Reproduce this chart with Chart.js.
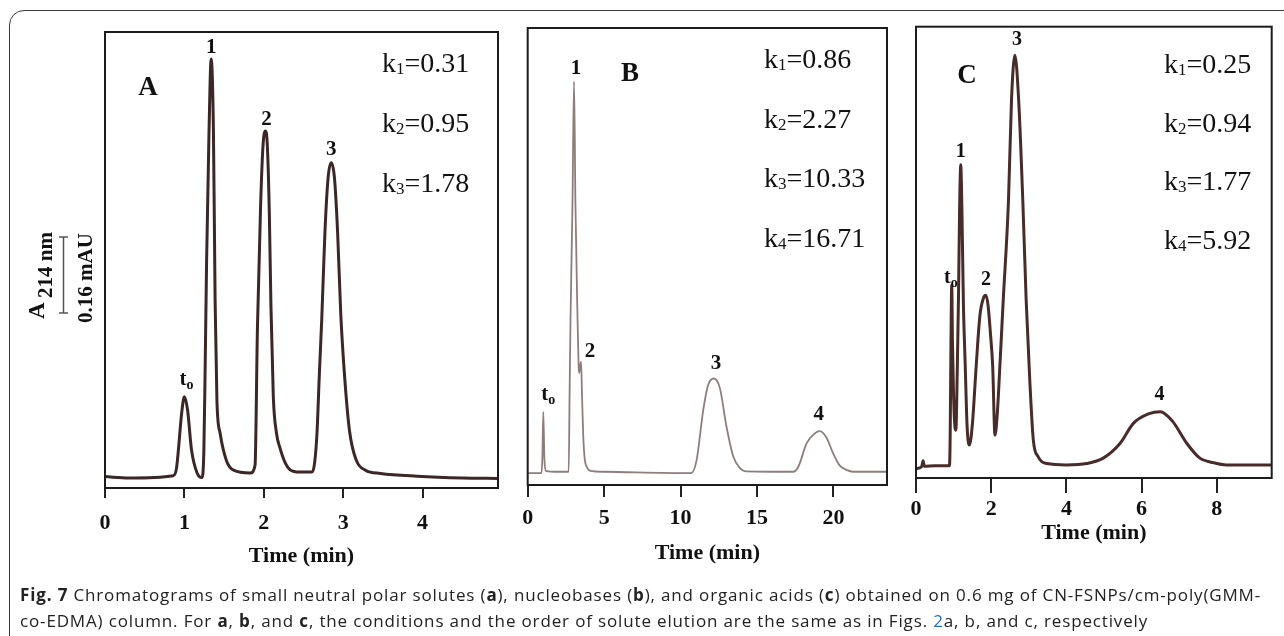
<!DOCTYPE html>
<html>
<head>
<meta charset="utf-8">
<script src="https://cdn.jsdelivr.net/npm/chart.js@4.4.1/dist/chart.umd.min.js"></script>
<style>
html,body{margin:0;padding:0;background:#fff;}
body{width:1284px;height:636px;position:relative;overflow:hidden;}
#frame{position:absolute;left:9px;top:10px;width:1320px;height:680px;border:1.5px solid #3a3a3a;border-radius:15px;box-sizing:border-box;}
canvas.plot{position:absolute;left:0;top:0;}
.cap{position:absolute;left:20px;font-family:"Open Sans",sans-serif;font-size:17px;letter-spacing:0.85px;color:#222;white-space:nowrap;}
.cap b{font-weight:700;}
.blue{color:#2a6ebb;}
</style>
</head>
<body>
<div id="frame"></div>
<div id="stage"></div>
<div class="cap" style="top:583px;"><b>Fig. 7</b> Chromatograms of small neutral polar solutes (<b>a</b>), nucleobases (<b>b</b>), and organic acids (<b>c</b>) obtained on 0.6 mg of CN-FSNPs/cm-poly(GMM-</div>
<div class="cap" style="top:609px;">co-EDMA) column. For <b>a</b>, <b>b</b>, and <b>c</b>, the conditions and the order of solute elution are the same as in Figs. <span class="blue">2</span>a, b, and c, respectively</div>
<script>
// ---------- DATA ----------
// Panel A: small neutral polar solutes (time in min, signal in % of plot height)
const timeA   = [0, 0.3, 0.86, 0.90, 0.97, 1.00, 1.04, 1.09, 1.16, 1.22, 1.245, 1.262, 1.28, 1.31, 1.337, 1.366, 1.387, 1.41, 1.45, 1.53, 1.62, 1.83, 1.89, 1.92, 1.96, 1.99, 2.02, 2.045, 2.07, 2.09, 2.12, 2.16, 2.20, 2.27, 2.33, 2.45, 2.61, 2.64, 2.67, 2.70, 2.73, 2.77, 2.81, 2.85, 2.89, 2.93, 2.97, 3.02, 3.08, 3.16, 3.28, 3.47, 3.93, 4.5, 4.95];
const signalA = [2.5, 2.2, 2.7, 4.3, 17.1, 20.0, 17.1, 8.3, 3.3, 2.3, 8, 27, 50, 78, 94.1, 78, 41, 19, 12, 6, 3.9, 3.3, 5, 35, 62, 75, 78.3, 75, 60, 40, 20, 12, 9, 5.5, 4, 3.5, 3.5, 5.5, 12, 25, 37, 56, 68, 71.3, 68, 56, 38, 24, 12.5, 6.3, 3.9, 3.2, 2.6, 2.2, 2.1];
const ticksA = [0, 1, 2, 3, 4];
const kValuesA = ['0.31', '0.95', '1.78'];
const peakNamesA = ['t', '1', '2', '3'];
const peakTimesA = [1.00, 1.337, 2.02, 2.85];
const peakHeightsA = [20.0, 94.1, 78.3, 71.3];

// Panel B: nucleobases
const timeB   = [0, 0.9, 0.96, 1.02, 1.09, 1.18, 2.0, 2.68, 2.74, 2.80, 2.93, 3.03, 3.12, 3.25, 3.33, 3.37, 3.43, 3.49, 3.55, 3.63, 3.72, 3.86, 4.1, 5.0, 10.7, 11.05, 11.48, 11.8, 12.18, 12.57, 13.0, 13.44, 13.88, 14.3, 17.36, 17.7, 18.24, 18.78, 19.1, 19.54, 19.98, 20.4, 20.85, 21.3, 23.5];
const signalB = [2.6, 2.6, 6, 16.0, 6, 3.1, 2.9, 2.9, 20, 36, 62, 88.3, 62, 38, 26, 24.5, 26, 27, 20, 11, 6, 4, 3.1, 2.9, 2.6, 5.5, 16.4, 21.9, 23.3, 21.2, 12.8, 6.3, 3.7, 3.0, 2.9, 4.0, 9.1, 11.3, 11.8, 10.4, 6.9, 4.3, 3.3, 2.9, 2.9];
const ticksB = [0, 5, 10, 15, 20];
const kValuesB = ['0.86', '2.27', '10.33', '16.71'];
const peakNamesB = ['t', '1', '2', '3', '4'];
const peakTimesB = [1.02, 3.03, 3.49, 12.18, 19.1];
const peakHeightsB = [16.0, 88.3, 27, 23.3, 11.8];

// Panel C: organic acids
const timeC   = [0, 0.15, 0.19, 0.22, 0.5, 0.89, 0.91, 0.93, 0.95, 0.97, 1.0, 1.04, 1.06, 1.10, 1.13, 1.16, 1.19, 1.22, 1.26, 1.31, 1.36, 1.42, 1.50, 1.60, 1.70, 1.80, 1.86, 1.92, 1.98, 2.04, 2.10, 2.16, 2.23, 2.32, 2.46, 2.54, 2.63, 2.73, 2.84, 2.93, 3.03, 3.12, 3.25, 3.48, 4.0, 4.54, 4.98, 5.43, 5.78, 6.18, 6.5, 6.82, 7.2, 7.55, 7.91, 8.26, 9.46];
const signalC = [2.1, 2.5, 3.8, 2.6, 2.7, 2.7, 10, 30, 42.8, 30, 18, 11, 10.6, 25, 40, 60, 69.4, 60, 39, 24.7, 11.3, 7.3, 12, 24.7, 36, 40, 40.5, 38, 32, 24.7, 9.5, 14, 24.7, 39.4, 61.6, 83.8, 93.7, 83.8, 61.6, 39.4, 21, 8.4, 4.7, 3.2, 2.9, 3.2, 4.4, 7.7, 12.1, 14.2, 14.7, 12.6, 7.7, 4.4, 3.4, 2.9, 2.9];
const ticksC = [0, 2, 4, 6, 8];
const kValuesC = ['0.25', '0.94', '1.77', '5.92'];
const peakNamesC = ['t', '1', '2', '3', '4'];
const peakTimesC = [0.95, 1.19, 1.86, 2.63, 6.5];
const peakHeightsC = [42.8, 69.4, 40.5, 93.7, 14.7];

// ---------- LAYOUT / STYLE ----------
const SERIF = '"Liberation Serif","Times New Roman",serif';
const W = 1284, H = 636;

const panels = [
  { id:'A', time:timeA, signal:signalA, ticks:ticksA, kValues:kValuesA,
    names:peakNamesA, ptimes:peakTimesA, pheights:peakHeightsA,
    xMax:4.95, area:{l:105,t:32,r:498,b:488}, color:'#3b2725', lw:3,
    tickLen:10, tickPad:12, titleY:556, letter:{x:148,y:88}, k:{x:382,y0:72,dy:60},
    labelSize:21, ldx:[1,0,1,0], ldy:[-17,-11,-11,-13], yLabel:true },
  { id:'B', time:timeB, signal:signalB, ticks:ticksB, kValues:kValuesB,
    names:peakNamesB, ptimes:peakTimesB, pheights:peakHeightsB,
    xMax:23.5, area:{l:527.7,t:28,r:887,b:485}, color:'#8d7e7a', lw:1.8,
    tickLen:12, tickPad:8, titleY:553, letter:{x:630,y:74}, k:{x:764,y0:68,dy:59.5},
    labelSize:21, ldx:[4,2,9,2,-1], ldy:[-17,-13,-10,-15,-16] },
  { id:'C', time:timeC, signal:signalC, ticks:ticksC, kValues:kValuesC,
    names:peakNamesC, ptimes:peakTimesC, pheights:peakHeightsC,
    xMax:9.46, area:{l:916,t:26.7,r:1271.7,b:478}, color:'#482c29', lw:3,
    tickLen:15, tickPad:3, titleY:533, letter:{x:967,y:76}, k:{x:1164,y0:73,dy:58.7},
    labelSize:20, ldx:[-2,0,0,2,-1], ldy:[-7,-13,-15,-15,-17] }
];

function annotPlugin(p) {
  return {
    id: 'annot' + p.id,
    afterDraw(chart) {
      const ctx = chart.ctx, a = chart.chartArea;
      const xs = chart.scales.x, ys = chart.scales.y;
      ctx.save();
      // plot frame
      ctx.strokeStyle = '#1c1c1c'; ctx.lineWidth = 2;
      ctx.strokeRect(a.left, a.top, a.right - a.left, a.bottom - a.top);
      // panel letter
      ctx.fillStyle = '#111';
      ctx.font = 'bold 27px ' + SERIF; ctx.textAlign = 'center'; ctx.textBaseline = 'middle';
      ctx.fillText(p.id, p.letter.x, p.letter.y);
      // capacity factors
      ctx.textAlign = 'left'; ctx.textBaseline = 'alphabetic';
      p.kValues.forEach((v, i) => {
        let x = p.k.x; const y = p.k.y0 + i * p.k.dy;
        ctx.font = '28px ' + SERIF; ctx.fillText('k', x, y); x += ctx.measureText('k').width;
        const s = String(i + 1);
        ctx.font = '17px ' + SERIF; ctx.fillText(s, x, y + 2); x += ctx.measureText(s).width;
        ctx.font = '28px ' + SERIF; ctx.fillText('=' + v, x, y);
      });
      // peak labels
      ctx.textBaseline = 'middle';
      p.names.forEach((n, i) => {
        const x = xs.getPixelForValue(p.ptimes[i]) + p.ldx[i];
        const y = ys.getPixelForValue(p.pheights[i]) + p.ldy[i];
        if (n === 't') {
          ctx.font = 'bold ' + p.labelSize + 'px ' + SERIF; ctx.textAlign = 'right';
          ctx.fillText('t', x + 1, y);
          ctx.font = 'bold ' + Math.round(p.labelSize * 0.68) + 'px ' + SERIF; ctx.textAlign = 'left';
          ctx.fillText('o', x + 1, y + 6);
        } else {
          ctx.font = 'bold ' + p.labelSize + 'px ' + SERIF; ctx.textAlign = 'center';
          ctx.fillText(n, x, y);
        }
      });
      // y-axis label and scale bar (panel A only)
      if (p.yLabel) {
        ctx.save();
        ctx.rotate(-Math.PI / 2);
        ctx.fillStyle = '#111'; ctx.textAlign = 'left'; ctx.textBaseline = 'alphabetic';
        ctx.font = 'bold 23px ' + SERIF; ctx.fillText('A', -319, 44);
        ctx.font = 'bold 21px ' + SERIF; ctx.fillText('214 nm', -298, 52);
        ctx.textAlign = 'center';
        ctx.font = 'bold 21px ' + SERIF; ctx.fillText('0.16 mAU', -278, 92);
        ctx.restore();
        ctx.strokeStyle = '#555'; ctx.lineWidth = 1.5;
        ctx.beginPath();
        ctx.moveTo(63.5, 237); ctx.lineTo(63.5, 313);
        ctx.moveTo(59, 237); ctx.lineTo(68, 237);
        ctx.moveTo(59, 313); ctx.lineTo(68, 313);
        ctx.stroke();
      }
      ctx.restore();
    }
  };
}

function makePanel(p) {
  const canvas = document.createElement('canvas');
  canvas.width = W; canvas.height = H; canvas.className = 'plot';
  canvas.style.width = W + 'px'; canvas.style.height = H + 'px';
  document.getElementById('stage').appendChild(canvas);
  const axisH = p.titleY + 13.2 - p.area.b;
  const padBottom = H - (p.area.b + axisH);
  new Chart(canvas, {
    type: 'line',
    data: {
      datasets: [{
        data: p.time.map((t, i) => ({ x: t, y: p.signal[i] })),
        borderColor: p.color, borderWidth: p.lw, pointRadius: 0,
        cubicInterpolationMode: 'monotone', fill: false
      }]
    },
    options: {
      responsive: false, animation: false, devicePixelRatio: 1,
      layout: { padding: { left: p.area.l, top: p.area.t, right: W - p.area.r, bottom: padBottom } },
      plugins: { legend: { display: false }, tooltip: { enabled: false } },
      scales: {
        x: {
          type: 'linear', min: 0, max: p.xMax,
          afterFit: s => { s.height = axisH; },
          afterBuildTicks: s => { s.ticks = p.ticks.map(v => ({ value: v })); },
          grid: { display: true, drawOnChartArea: false, drawTicks: true, tickLength: p.tickLen, color: '#222', lineWidth: 2 },
          border: { display: false },
          ticks: { padding: p.tickPad, color: '#111', maxRotation: 0, autoSkip: false,
                   font: { family: SERIF, size: 22, weight: 'bold' } },
          title: { display: true, text: 'Time (min)', color: '#111', padding: 0,
                   font: { family: SERIF, size: 22, weight: 'bold' } }
        },
        y: { display: false, min: 0, max: 100 }
      }
    },
    plugins: [annotPlugin(p)]
  });
}

panels.forEach(makePanel);
</script>
</body>
</html>
